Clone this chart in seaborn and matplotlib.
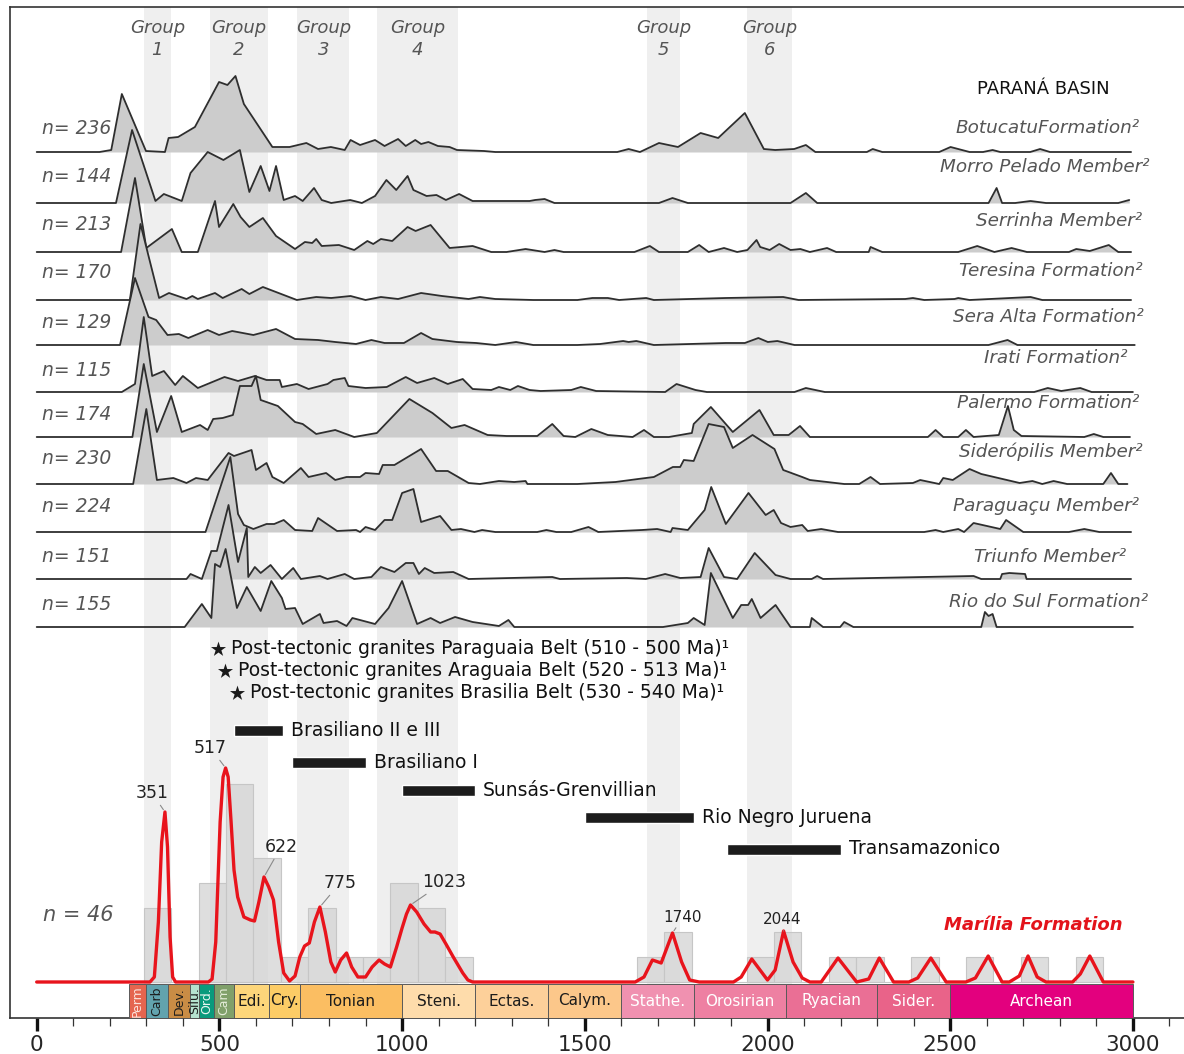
import numpy as np
import pandas as pd
import seaborn as sns
import matplotlib.pyplot as plt
from matplotlib.ticker import FixedLocator

# ---------------- Paraná Basin detrital zircon spectra: (age Ma, relative height) ----------------
botucatu = [(0, 0), (172, 0), (204, 2), (233, 58), (299, 1), (351, 0), (361, 14), (387, 15), (433, 25),
            (499, 70), (522, 67), (544, 76), (567, 48), (645, 5), (692, 5), (738, 9), (770, 3), (805, 5),
            (843, 2), (859, 12), (885, 7), (926, 12), (952, 6), (989, 13), (1010, 6), (1036, 12), (1052, 8),
            (1072, 10), (1098, 6), (1130, 5), (1150, 2), (1224, 1), (1255, 0), (1589, 0), (1620, 3),
            (1651, 0), (1703, 9), (1755, 5), (1817, 19), (1865, 14), (1938, 39), (1990, 3), (2021, 2),
            (2073, 3), (2105, 7), (2131, 0), (2272, 0), (2288, 3), (2314, 0), (2470, 0), (2501, 5),
            (2553, 0), (2590, 0), (2616, 2), (2637, 0), (2719, 0), (2746, 3), (2773, 0), (2995, 0)]
morro_pelado = [(0, 0), (217, 0), (261, 73), (325, 2), (348, 9), (397, 2), (421, 30), (468, 51), (511, 43),
                (556, 53), (582, 11), (613, 37), (637, 12), (655, 37), (676, 3), (707, 7), (728, 2), (759, 15),
                (780, 3), (806, 0), (858, 3), (890, 0), (926, 7), (957, 23), (984, 13), (1015, 27), (1031, 13),
                (1067, 7), (1094, 8), (1120, 3), (1156, 9), (1193, 2), (1349, 2), (1364, 3), (1390, 4),
                (1417, 0), (1703, 0), (1740, 5), (1782, 0), (2063, 0), (2105, 10), (2136, 0), (2605, 0),
                (2627, 15), (2642, 0), (2678, 0), (2720, 2), (2762, 0), (2960, 0), (2990, 3)]
serrinha = [(0, 0), (231, 0), (269, 74), (300, 4), (370, 23), (397, 0), (441, 0), (488, 51), (499, 25),
            (538, 48), (558, 35), (582, 25), (619, 34), (655, 16), (707, 3), (734, 10), (754, 9), (765, 13),
            (780, 6), (827, 7), (869, 2), (905, 11), (921, 8), (942, 13), (973, 11), (1015, 25), (1037, 21),
            (1078, 27), (1130, 4), (1193, 6), (1244, 0), (1286, 0), (1338, 3), (1390, 0), (1417, 2),
            (1442, 0), (1636, 0), (1678, 6), (1703, 0), (1782, 0), (1813, 7), (1839, 0), (1881, 4),
            (1917, 0), (1945, 2), (1970, 12), (1980, 5), (2006, 2), (2032, 8), (2063, 2), (2090, 3),
            (2116, 0), (2163, 4), (2188, 0), (2277, 0), (2282, 5), (2314, 0), (2522, 0), (2574, 6),
            (2621, 0), (2668, 4), (2710, 0), (2825, 0), (2845, 3), (2882, 1), (2934, 7), (2960, 0), (2995, 0)]
teresina = [(0, 0), (255, 0), (284, 76), (335, 2), (362, 7), (410, 1), (426, 4), (441, 1), (488, 7),
            (509, 2), (561, 11), (582, 6), (619, 13), (712, 0), (765, 3), (806, 2), (859, 4), (900, 0),
            (942, 3), (989, 1), (1052, 7), (1109, 4), (1182, 1), (1213, 3), (1255, 1), (1359, 0),
            (1480, 0), (1521, 2), (1563, 2), (1594, 0), (1668, 2), (1689, 0), (1886, 2), (2043, 3),
            (2085, 0), (2377, 1), (2398, 2), (2429, 0), (2512, 1), (2522, 2), (2553, 0), (2720, 3),
            (2752, 0), (2995, 0)]
sera_alta = [(0, 0), (228, 0), (269, 67), (306, 28), (327, 25), (358, 10), (389, 11), (415, 7), (468, 15),
             (499, 10), (535, 14), (593, 10), (655, 16), (707, 6), (770, 5), (817, 3), (874, 1), (916, 5),
             (952, 2), (1005, 2), (1052, 12), (1083, 6), (1150, 3), (1203, 2), (1255, 0), (1312, 3),
             (1359, 0), (1480, 0), (1542, 1), (1605, 4), (1620, 3), (1641, 4), (1689, 0), (1886, 2),
             (1938, 2), (1975, 7), (2001, 3), (2027, 4), (2074, 0), (2605, 0), (2657, 5), (2684, 0), (3005, 0)]
irati = [(0, 0), (233, 0), (269, 8), (293, 75), (316, 16), (348, 21), (379, 7), (400, 16), (441, 4),
         (514, 15), (551, 11), (597, 16), (629, 12), (665, 12), (671, 5), (712, 8), (744, 3), (796, 8),
         (812, 12), (843, 14), (853, 6), (900, 4), (958, 5), (1010, 15), (1041, 9), (1088, 14), (1125, 8),
         (1166, 13), (1193, 3), (1244, 2), (1265, 5), (1296, 2), (1317, 6), (1349, 2), (1379, 1),
         (1463, 2), (1489, 5), (1531, 1), (1720, 0), (1751, 8), (1803, 2), (1834, 0), (2074, 0),
         (2105, 4), (2157, 0), (2730, 0), (2767, 4), (2804, 1), (2856, 4), (2887, 0), (3000, 0)]
palermo = [(0, 0), (262, 0), (293, 73), (329, 5), (368, 41), (397, 5), (447, 12), (468, 7), (483, 18),
           (509, 19), (537, 22), (556, 51), (588, 51), (600, 61), (613, 37), (660, 31), (707, 15), (728, 13),
           (765, 3), (817, 7), (869, 0), (931, 4), (1020, 38), (1083, 24), (1135, 9), (1171, 12), (1234, 2),
           (1286, 1), (1370, 1), (1411, 13), (1442, 1), (1474, 0), (1518, 8), (1563, 2), (1631, 0),
           (1662, 7), (1689, 0), (1730, 0), (1793, 4), (1798, 13), (1845, 30), (1905, 5), (1978, 27),
           (2017, 2), (2058, 2), (2089, 11), (2116, 0), (2210, 0), (2439, 0), (2460, 7), (2481, 0),
           (2522, 0), (2543, 7), (2564, 0), (2633, 2), (2658, 31), (2674, 7), (2695, 1), (2867, 0),
           (2893, 3), (2919, 0), (2992, 0)]
sideropolis = [(0, 0), (264, 0), (300, 75), (329, 4), (374, 6), (410, 1), (436, 6), (468, 4), (525, 31),
               (540, 28), (588, 34), (600, 14), (629, 21), (645, 7), (676, 1), (723, 16), (744, 7), (792, 11),
               (817, 4), (848, 7), (885, 7), (900, 11), (937, 10), (947, 19), (979, 19), (1052, 35),
               (1093, 13), (1125, 13), (1182, 1), (1213, 0), (1265, 3), (1307, 2), (1338, 3), (1343, 0),
               (1480, 0), (1584, 2), (1646, 5), (1689, 7), (1741, 17), (1761, 17), (1771, 24), (1798, 23),
               (1839, 60), (1881, 57), (1905, 36), (1959, 49), (2019, 35), (2043, 14), (2095, 7), (2116, 4),
               (2210, 0), (2251, 0), (2282, 7), (2308, 0), (2398, 1), (2418, 4), (2470, 0), (2481, 6),
               (2507, 4), (2553, 15), (2585, 10), (2690, 1), (2725, 3), (2752, 0), (2783, 3), (2820, 0),
               (2919, 0), (2940, 11), (2960, 0), (2985, 0)]
paraguacu = [(0, 0), (462, 0), (530, 75), (551, 18), (567, 7), (593, 3), (629, 8), (650, 8), (676, 12),
             (707, 2), (754, 1), (770, 14), (822, 1), (874, 2), (885, 0), (900, 5), (926, 2), (952, 12),
             (973, 12), (1000, 39), (1031, 43), (1052, 10), (1104, 16), (1135, 2), (1161, 3), (1198, 0),
             (1219, 2), (1255, 0), (1370, 0), (1395, 2), (1422, 0), (1463, 0), (1510, 5), (1521, 3),
             (1537, 0), (1657, 2), (1698, 3), (1735, 0), (1740, 4), (1782, 2), (1828, 22), (1846, 45),
             (1886, 8), (1948, 39), (1995, 17), (2017, 22), (2037, 9), (2063, 5), (2095, 7), (2110, 1),
             (2147, 3), (2193, 0), (2429, 0), (2460, 2), (2481, 0), (2522, 3), (2538, 0), (2564, 9),
             (2637, 3), (2653, 12), (2700, 0), (2825, 0), (2867, 3), (2908, 0), (2995, 0)]
triunfo = [(0, 0), (410, 0), (421, 5), (452, 0), (478, 28), (493, 28), (525, 74), (551, 17), (575, 51),
           (579, 2), (597, 12), (613, 6), (640, 14), (671, 0), (702, 11), (723, 0), (775, 3), (796, 0),
           (843, 5), (869, 0), (916, 2), (942, 12), (979, 7), (1010, 16), (1031, 16), (1046, 5), (1062, 11),
           (1088, 6), (1140, 7), (1182, 0), (1411, 2), (1432, 0), (1615, 1), (1667, 0), (1720, 5),
           (1761, 1), (1817, 2), (1839, 31), (1881, 2), (1917, 0), (1965, 26), (2022, 4), (2063, 0),
           (2121, 0), (2136, 3), (2152, 0), (2564, 3), (2585, 0), (2637, 0), (2642, 5), (2662, 6),
           (2705, 5), (2709, 0), (2995, 0)]
rio_do_sul = [(0, 0), (405, 0), (452, 23), (478, 9), (488, 63), (502, 60), (517, 78), (548, 19), (575, 40),
              (613, 16), (642, 46), (671, 29), (681, 18), (707, 19), (728, 3), (775, 13), (785, 4), (822, 6),
              (848, 1), (864, 9), (926, 3), (963, 19), (1000, 46), (1041, 3), (1078, 9), (1104, 4),
              (1145, 10), (1193, 5), (1265, 1), (1291, 7), (1307, 0), (1714, 0), (1782, 4), (1798, 9),
              (1828, 2), (1845, 54), (1905, 9), (1928, 22), (1947, 22), (1957, 28), (1981, 9), (2022, 22),
              (2063, 0), (2116, 0), (2121, 9), (2152, 0), (2199, 0), (2210, 5), (2235, 0), (2585, 0),
              (2595, 15), (2605, 11), (2616, 13), (2627, 0), (3000, 0)]

ridge_curves = [botucatu, morro_pelado, serrinha, teresina, sera_alta, irati, palermo,
                sideropolis, paraguacu, triunfo, rio_do_sul]
ridge_names = ["BotucatuFormation²", "Morro Pelado Member²", "Serrinha Member²", "Teresina Formation²",
               "Sera Alta Formation²", "Irati Formation²", "Palermo Formation²", "Siderópilis Member²",
               "Paraguaçu Member²", "Triunfo Member²", "Rio do Sul Formation²"]
ridge_n = [236, 144, 213, 170, 129, 115, 174, 230, 224, 151, 155]

group_names = ["Group\n1", "Group\n2", "Group\n3", "Group\n4", "Group\n5", "Group\n6"]
group_lo = [293, 473, 713, 932, 1670, 1944]
group_hi = [367, 632, 856, 1153, 1761, 2067]

# ---------------- Marília Formation (n = 46) ----------------
marilia_ages = [345, 351, 356,
                478, 505, 512, 517,
                520, 523, 527, 533, 545, 560, 575, 590,
                600, 612, 622, 628, 645,
                735,
                760, 775, 780,
                848,
                937,
                995, 1015, 1023, 1030,
                1060, 1085, 1105,
                1140,
                1690, 1735, 1745,
                1955, 2040, 2048,
                2193, 2306, 2447, 2604, 2713, 2882]
marilia_pdp = [(0, 0), (310, 0), (322, 5), (333, 60), (342, 140), (351, 170), (358, 135), (365, 45),
               (372, 5), (380, 0), (470, 0), (480, 3), (490, 40), (502, 160), (510, 205), (517, 214),
               (524, 205), (532, 160), (540, 112), (550, 85), (567, 65), (585, 62), (596, 61), (608, 80),
               (622, 105), (635, 95), (648, 82), (662, 40), (676, 9), (692, 1), (707, 6), (720, 25),
               (733, 36), (746, 39), (760, 60), (775, 75), (790, 50), (805, 20), (817, 10), (832, 22),
               (848, 29), (862, 15), (879, 5), (900, 5), (918, 15), (937, 22), (952, 18), (968, 15),
               (985, 35), (1000, 54), (1012, 68), (1023, 77), (1040, 70), (1060, 58), (1078, 50),
               (1090, 50), (1104, 48), (1120, 38), (1140, 25), (1166, 9), (1180, 2), (1193, 0),
               (1638, 0), (1662, 5), (1685, 22), (1709, 19), (1740, 49), (1765, 20), (1787, 2), (1813, 0),
               (1907, 0), (1928, 5), (1957, 23), (2000, 2), (2021, 12), (2044, 51), (2070, 20), (2095, 4),
               (2116, 0), (2147, 0), (2193, 24), (2244, 0), (2277, 3), (2306, 24), (2345, 0), (2387, 0),
               (2411, 4), (2447, 24), (2489, 0), (2543, 0), (2569, 4), (2604, 26), (2642, 0), (2662, 0),
               (2689, 6), (2713, 26), (2738, 5), (2762, 0), (2835, 0), (2856, 8), (2882, 26), (2919, 0),
               (3000, 0)]
peak_ages = [351, 517, 622, 775, 1023, 1740, 2044]

granite_labels = ["Post-tectonic granites Paraguaia Belt (510 - 500 Ma)¹",
                  "Post-tectonic granites Araguaia Belt (520 - 513 Ma)¹",
                  "Post-tectonic granites Brasilia Belt (530 - 540 Ma)¹"]
granite_star_age = [496, 515, 547]

orogeny_names = ["Brasiliano II e III", "Brasiliano I", "Sunsás-Grenvillian", "Rio Negro Juruena",
                 "Transamazonico"]
orogeny_start = [540, 700, 1000, 1500, 1890]
orogeny_end = [675, 900, 1200, 1800, 2200]

period_names = ["Perm", "Carb", "Dev.", "Silu.", "Ord.", "Cam", "Edi.", "Cry.", "Tonian", "Steni.",
                "Ectas.", "Calym.", "Stathe.", "Orosirian", "Ryacian", "Sider.", "Archean"]
period_edges = [252, 299, 359, 419, 444, 485, 541, 635, 720, 1000, 1200, 1400, 1600, 1800, 2050,
                2300, 2500, 3000]

# ---------------- styling / layout ----------------
period_colors = ["#e5654f", "#62a3ae", "#c98c45", "#b5e2cf", "#0a9a7c", "#80a06a", "#fdd67a", "#fccc66",
                 "#fbbe62", "#fedcab", "#fdd09a", "#fcc78a", "#f091b0", "#ee80a2", "#ea6f95", "#e96389",
                 "#e3007e"]
period_text_colors = ["#fbe3dc", "#1c1c1c", "#1c1c1c", "#1c1c1c", "#e8f5f0", "#e3ecd8", "#1c1c1c",
                      "#1c1c1c", "#1c1c1c", "#1c1c1c", "#1c1c1c", "#1c1c1c", "white", "white", "white",
                      "white", "white"]

sns.set_style("white")
plt.rcParams['font.family'] = ['DejaVu Sans']

W, H = 1184, 1054
X0, SC = 36.7, 0.3654            # pixel of 0 Ma, pixels per Ma
FL, FR, FT, FB = 10, 1190, 7, 1018


def ma(px):
    return (px - X0) / SC


def yy(py):
    return FB - py


fig = plt.figure(figsize=(W / 100, H / 100), dpi=100)
ax = fig.add_axes([FL / W, (H - FB) / H, (FR - FL) / W, (FB - FT) / H])
ax.set_xlim(ma(FL), ma(FR))
ax.set_ylim(0, FB - FT)

# group bands
bar_top = 984
for lo, hi, name in zip(group_lo, group_hi, group_names):
    ax.axvspan(lo, hi, ymin=yy(bar_top) / (FB - FT), ymax=1, color="#efefef", lw=0, zorder=0)
    ax.text((lo + hi) / 2, yy(39), name, ha="center", va="center", style="italic", fontsize=13,
            color="#555555", linespacing=1.35, zorder=30)

ax.text(ma(1043), yy(89), "PARANÁ BASIN", ha="center", va="center", fontsize=13, color="#111111")

# ridgelines
ridge_base_px = [152, 203, 252, 300, 345, 392, 437, 484, 532, 579, 627]
n_label_py = [128, 177, 225, 273, 323, 370, 414, 459, 507, 557, 604]
name_right_px = [1140, 1150, 1142, 1143, 1144, 1127, 1139, 1143, 1139, 1126, 1148]
name_py = [128, 167, 221, 271, 317, 358, 403, 452, 506, 557, 602]

for i, pts in enumerate(ridge_curves):
    df = pd.DataFrame(pts, columns=["age", "h"])
    base = yy(ridge_base_px[i])
    df["y"] = base + df["h"]
    z = 2 + i
    ax.fill_between(df["age"], base, np.maximum(df["y"], base), color="#cccccc", lw=0, zorder=z)
    sns.lineplot(data=df, x="age", y="y", ax=ax, color="#2e2e2e", lw=1.3, estimator=None, sort=False,
                 zorder=z + 0.5)
    ax.text(ma(42), yy(n_label_py[i]), f"n= {ridge_n[i]}", ha="left", va="center", style="italic",
            fontsize=13.5, color="#555555", zorder=30)
    ax.text(ma(name_right_px[i]), yy(name_py[i]), ridge_names[i], ha="right", va="center",
            style="italic", fontsize=13.2, color="#555555", zorder=30)

# post-tectonic granites
star_py = [649, 671, 693]
for age, py, lab in zip(granite_star_age, star_py, granite_labels):
    ax.scatter([age], [yy(py)], marker="*", s=130, color="#1a1a1a", zorder=30, linewidths=0)
    ax.text(age + 36, yy(py) + 1, lab, ha="left", va="center", fontsize=13.5, color="#111111", zorder=30)

# orogenic events
orog_py = [730.5, 762, 790, 817.5, 849]
for name, s, e, py in zip(orogeny_names, orogeny_start, orogeny_end, orog_py):
    ax.barh(yy(py), e - s, left=s, height=11, color="#1c1c1c", zorder=10)
    ax.text(e + 22, yy(py), name, ha="left", va="center", fontsize=13.5, color="#111111", zorder=30)

# geological time scale
for k, name in enumerate(period_names):
    lo, hi = period_edges[k], period_edges[k + 1]
    ax.bar(lo, yy(bar_top), width=hi - lo, bottom=0, align="edge", color=period_colors[k],
           edgecolor="#5a5a5a", lw=0.7, zorder=12)
    if k < 6:
        ax.text((lo + hi) / 2, yy(bar_top) / 2, name, rotation=90, ha="center", va="center",
                fontsize=9, color=period_text_colors[k], zorder=13)
    else:
        ax.text((lo + hi) / 2, yy(bar_top) / 2, name, ha="center", va="center", fontsize=11,
                color=period_text_colors[k], zorder=13)

# Marília Formation: histogram + probability curve
base_py = 982
top_py = 700
unit = 24.8
ax2 = fig.add_axes([FL / W, (H - base_py - 2) / H, (FR - FL) / W, (base_py + 2 - top_py) / H])
ax2.set_xlim(ma(FL), ma(FR))
sns.histplot(x=marilia_ages, bins=np.arange(293, 3000, 75), ax=ax2, color="#d4d4d4", edgecolor="#c6c6c6",
             alpha=0.75, linewidth=0.8)
ax2.set_ylim(-2 / unit, (base_py - top_py) / unit)
ax2.set_axis_off()

ax3 = ax2.twinx()
ax3.set_ylim(-2, base_py - top_py)
pdp = pd.DataFrame(marilia_pdp, columns=["age", "h"])
sns.lineplot(data=pdp, x="age", y="h", ax=ax3, color="#e8141c", lw=2.4, estimator=None, sort=False,
             clip_on=False)
ax3.set_axis_off()

peak_label_px = [(152, 793), (210.5, 748), (281, 847), (340, 883), (444, 882), (683, 917), (782, 920)]
for p, (tx, ty) in zip(peak_ages, peak_label_px):
    hp = np.interp(p, pdp["age"], pdp["h"])
    ax3.annotate(str(p), xy=(p, hp), xytext=(ma(tx), yy(ty)), textcoords=ax.transData,
                 ha="center", va="center", fontsize=12.5 if p < 1500 else 11, color="#222222",
                 arrowprops=dict(arrowstyle="-", color="#8a8a8a", lw=0.8, shrinkA=0, shrinkB=2))

ax.text(ma(78), yy(915), "n = 46", ha="center", va="center", style="italic", fontsize=15,
        color="#555555")
ax.text(ma(1033), yy(925), "Marília Formation", ha="center", va="center", style="italic",
        fontweight="bold", fontsize=13, color="#e3131b")

# axis / frame
ax.xaxis.set_major_locator(FixedLocator(list(range(0, 3001, 500))))
ax.xaxis.set_minor_locator(FixedLocator([m for m in range(100, 3101, 100) if m % 500]))
ax.tick_params(axis="x", which="major", length=9.5, width=2.4, labelsize=15.5, pad=3, color="#111111",
               direction="out", bottom=True)
ax.tick_params(axis="x", which="minor", length=6, width=0.9, color="#333333", direction="out", bottom=True)
ax.set_yticks([])
ax.set_xlabel("")
ax.set_ylabel("")
for s in ax.spines.values():
    s.set_color("#333333")
    s.set_linewidth(1.2)

fig.savefig("out.png", dpi=100)
